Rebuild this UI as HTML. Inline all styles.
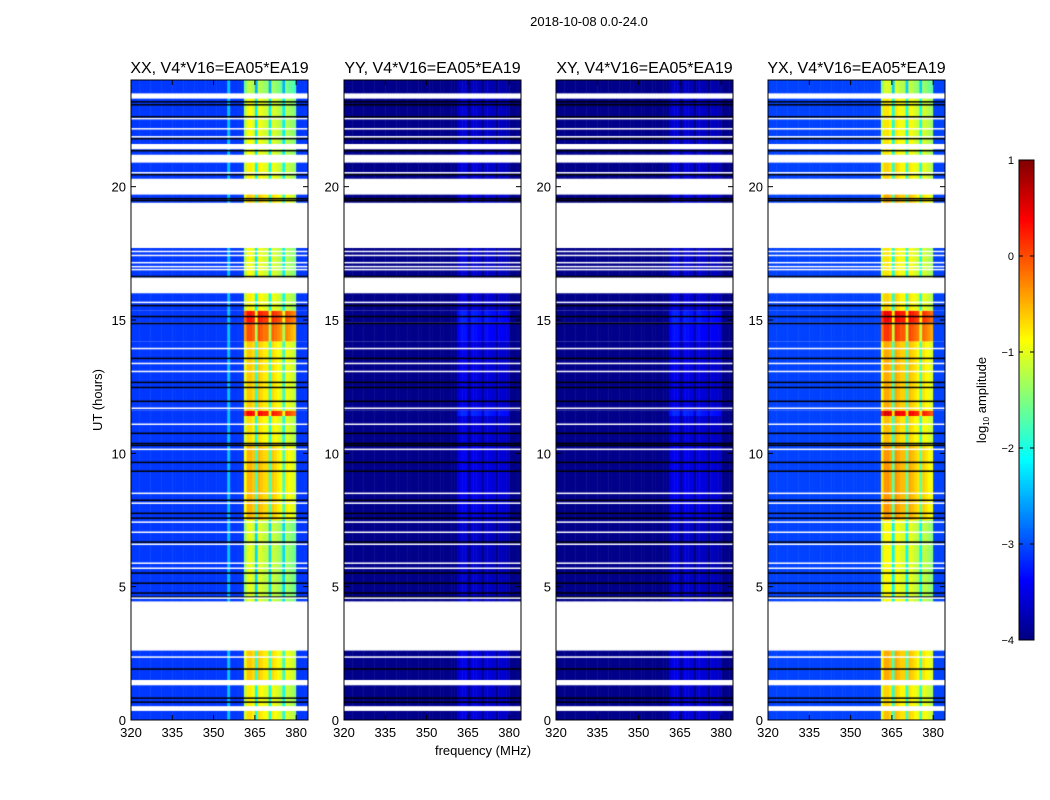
<!DOCTYPE html>
<html><head><meta charset="utf-8"><style>
body{margin:0;background:#fff;width:1050px;height:800px;overflow:hidden;position:relative;font-family:"Liberation Sans",sans-serif}
canvas{position:absolute}
svg{position:absolute;left:0;top:0}
</style></head><body>
<canvas id="c0" width="177" height="640" style="left:131px;top:80px"></canvas>
<canvas id="c1" width="177" height="640" style="left:344px;top:80px"></canvas>
<canvas id="c2" width="177" height="640" style="left:556px;top:80px"></canvas>
<canvas id="c3" width="177" height="640" style="left:768px;top:80px"></canvas>
<canvas id="cb" width="15" height="480" style="left:1019px;top:160px"></canvas>
<svg id="ov" width="1050" height="800"></svg>
<script>
// time segments (hours) and XX band log10 amplitude; null = flagged (white)
const segStart=[0,0.34,0.52,1.3,1.5,2.6,4.45,7.5,10.3,11.4,11.6,14.2,14.9,15.35,16.0,16.6,17.7,19.4,19.7,20.3,20.9,21.2,21.4,21.6,23.3,23.5];
const segEnd  =[0.34,0.52,1.3,1.5,2.6,4.45,7.5,10.3,11.4,11.6,14.2,14.9,15.35,16.0,16.6,17.7,19.4,19.7,20.3,20.9,21.2,21.4,21.6,23.3,23.5,24];
const xxLevel =[-0.8,null,-0.9,null,-0.7,null,-1.1,-0.6,-0.8,0.3,-0.7,-0.1,0.2,-0.9,null,-1.0,null,-0.7,null,-0.9,null,-1.0,null,-1.0,null,-1.3];
// frequency channels (MHz) and band shape offset (null = outside band)
const chanMHz=[];for(let f=320;f<=384;f++)chanMHz.push(f);
const bandShape=[null,null,null,null,null,null,null,null,null,null,null,null,null,null,null,null,null,null,null,null,null,null,null,null,null,null,null,null,null,null,null,null,null,null,null,null,null,null,null,null,null,
 -0.3,0.1,0.1,0.0,-1.2, 0.1,0.0,-0.1,-0.1,-1.2, 0.0,-0.1,-0.2,-0.3,-1.2, -0.2,-0.3,-0.4,-0.5,null,null,null,null,null];
const panelBg=[-3.1,-3.95,-3.95,-3.05];
const panelTitles=["XX, V4*V16=EA05*EA19","YY, V4*V16=EA05*EA19","XY, V4*V16=EA05*EA19","YX, V4*V16=EA05*EA19"];
const blackLines=[23.18,23.07,22.62,21.80,21.35,20.45,19.55,19.48,16.63,15.54,15.13,14.87,13.56,12.66,12.47,11.95,10.75,10.37,10.30,9.66,9.33,8.24,7.75,7.57,6.67,5.51,5.13,4.76,4.61,1.91,0.82,0.67];
const whiteLines=[22.55,22.17,21.87,20.52,17.57,17.42,17.15,17.0,16.89,15.66,13.93,13.37,13.07,11.69,11.09,10.15,8.50,8.13,7.42,7.04,6.59,5.88,5.69,4.57,2.36,0.41];
const xTicks=[320,335,350,365,380];
const yTicks=[0,5,10,15,20];
const cbTicks=[-4,-3,-2,-1,0,1];

const W=177,H=640,fMin=320,fMax=384.3,vMin=-4,vMax=1;
const panelLeft=[131,344,556,768],top0=80;
const xS=f=>(f-fMin)/(fMax-fMin)*W;
const yS=h=>H-h/24*H;
function jet(v){let t=(v-vMin)/(vMax-vMin);t=Math.max(0,Math.min(1,t));
 const c=x=>Math.round(255*Math.max(0,Math.min(1,1.5-Math.abs(4*t-x))));
 return `rgb(${c(3)},${c(2)},${c(1)})`;}
function bandVal(p,lvl,s){
 if(p===0)return lvl+s;
 if(p===3)return lvl+s+0.15;
 return -3.6+0.3*(lvl+1)+s*0.3;}
for(let p=0;p<4;p++){
 const ctx=document.getElementById('c'+p).getContext('2d');
 ctx.fillStyle='#fff';ctx.fillRect(0,0,W,H);
 for(let i=0;i<segStart.length;i++){
  const lvl=xxLevel[i];if(lvl===null)continue;
  const y0=yS(segEnd[i]),y1=yS(segStart[i]);
  for(let j=0;j<chanMHz.length;j++){
   const s=bandShape[j];
   let v=s===null?panelBg[p]:bandVal(p,lvl,s);
   if(p===0&&chanMHz[j]===355&&s===null)v=-2.4;
   ctx.fillStyle=jet(v);
   const x0=xS(chanMHz[j]);ctx.fillRect(x0,y0,xS(chanMHz[j]+1)-x0+0.5,y1-y0);
  }
 }
 ctx.fillStyle='#000';
 blackLines.forEach(h=>ctx.fillRect(0,yS(h)-0.75,W,1.5));
 ctx.fillStyle='#fff';
 whiteLines.forEach(h=>ctx.fillRect(0,yS(h)-0.75,W,1.5));
}
const cb=document.getElementById('cb').getContext('2d');
for(let y=0;y<480;y++){cb.fillStyle=jet(vMax-(y+0.5)/480*(vMax-vMin));cb.fillRect(0,y,15,1);}

const svg=document.getElementById('ov');const NS='http://www.w3.org/2000/svg';
function mk(tag,attrs,parent,txt){const e=document.createElementNS(NS,tag);for(const k in attrs)e.setAttribute(k,attrs[k]);if(txt!==undefined)e.textContent=txt;(parent||svg).appendChild(e);return e;}
const t0=mk('text',{x:589,y:26,'font-size':13,'text-anchor':'middle'},svg,'2018-10-08 0.0-24.0');


for(let p=0;p<4;p++){
 const L=panelLeft[p];
 const g=mk('g',{},svg);
 
 
 const fr=mk('rect',{x:L,y:top0,width:W,height:H,fill:'none',stroke:'#000','stroke-width':1},g);
 
 
 const tt=mk('text',{x:L+W/2,y:73,'font-size':16,'text-anchor':'middle'},g,panelTitles[p]);
 
 
 xTicks.forEach(v=>{const x=L+xS(v);
  mk('line',{x1:x,x2:x,y1:top0+H,y2:top0+H-5,stroke:'#000'},g);
  mk('line',{x1:x,x2:x,y1:top0,y2:top0+5,stroke:'#000'},g);
  const tl=mk('text',{x:x,y:top0+H+17,'font-size':13,'text-anchor':'middle'},g,v);
  
  });
 yTicks.forEach(v=>{const y=top0+yS(v);
  mk('line',{x1:L,x2:L+5,y1:y,y2:y,stroke:'#000'},g);
  mk('line',{x1:L+W,x2:L+W-5,y1:y,y2:y,stroke:'#000'},g);
  const tl=mk('text',{x:L-5,y:y+5,'font-size':13,'text-anchor':'end'},g,v);
  
  });
}
const yl=mk('text',{x:0,y:0,'font-size':13,'text-anchor':'middle',transform:'translate(102,400) rotate(-90)'},svg,'UT (hours)');


const xl=mk('text',{x:483,y:755,'font-size':13,'text-anchor':'middle'},svg,'frequency (MHz)');


const cbf=mk('rect',{x:1019,y:160,width:15,height:480,fill:'none',stroke:'#000'},svg);


cbTicks.forEach(v=>{const y=160+(vMax-v)/(vMax-vMin)*480;
 mk('line',{x1:1019,x2:1023,y1:y,y2:y,stroke:'#000'});
 mk('line',{x1:1034,x2:1030,y1:y,y2:y,stroke:'#000'});
 const tl=mk('text',{x:1014,y:y+4,'font-size':11,'text-anchor':'end'},svg,v<0?'\u2212'+Math.abs(v):String(v));
 
 });
const cl=mk('text',{x:0,y:0,'font-size':13,'text-anchor':'middle',transform:'translate(986,400) rotate(-90)'},svg);


mk('tspan',{},cl,'log');mk('tspan',{'font-size':8,dy:3},cl,'10');mk('tspan',{dy:-3},cl,' amplitude');
</script>
</body></html>
